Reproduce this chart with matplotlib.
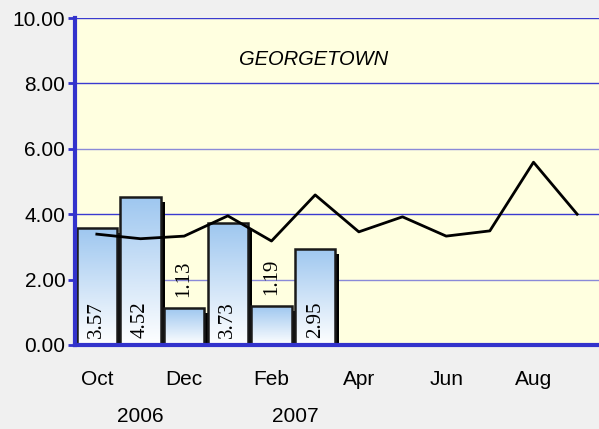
import numpy as np
import matplotlib.pyplot as plt
from matplotlib.patches import Rectangle

months = ["Oct", "Nov", "Dec", "Jan", "Feb", "Mar", "Apr", "May", "Jun", "Jul", "Aug", "Sep"]
bar_values = [3.57, 4.52, 1.13, 3.73, 1.19, 2.95]
line_values = [3.39, 3.25, 3.33, 3.95, 3.18, 4.59, 3.46, 3.92, 3.33, 3.49, 5.59, 4.00]
yticks = [0, 2, 4, 6, 8, 10]
year_labels = ["2006", "2007"]
year_pos = [1, 4.55]

plt.rcParams["font.family"] = ["Liberation Sans", "DejaVu Sans"]

fig = plt.figure(figsize=(5.99, 4.29), dpi=100, facecolor="#f0f0f0")
ax = fig.add_axes([75 / 599, 84 / 429, 524 / 599, 327 / 429])
ax.set_facecolor("#ffffe0")

x = np.arange(len(months))
ax.set_xlim(-0.5, len(months) - 0.5)
ax.set_ylim(0, 10)

# gridlines
for v in yticks[1:]:
    col = "#3a3ad0" if v in (4, 8, 10) else "#8a8ad8"
    ax.axhline(v, color=col, lw=1, zorder=1)

# bars with shadow and gradient
w = 0.93
dx = 4 / 43.7
dy = 5 / 32.7
grad = np.linspace(0, 1, 256).reshape(-1, 1)
top_c = np.array([0.62, 0.78, 0.94])
bot_c = np.array([1.0, 1.0, 1.0])
img = bot_c + (top_c - bot_c) * grad
img = img.reshape(256, 1, 3)
for i, v in enumerate(bar_values):
    shadow = Rectangle((i - w / 2 + dx, 0), w, v - dy, facecolor="black",
                       edgecolor="none", zorder=2)
    ax.add_patch(shadow)
    rect = Rectangle((i - w / 2, 0), w, v, facecolor="none", edgecolor="#1a1a1a",
                     lw=1.8, zorder=4)
    ax.add_patch(rect)
    im = ax.imshow(img, extent=(i - w / 2, i + w / 2, 0, v), origin="lower",
                   aspect="auto", zorder=3, interpolation="bilinear")
    im.set_clip_path(rect)
    if v > 2:
        ax.text(i, 0.22, f"{v:.2f}", rotation=90, ha="center", va="bottom",
                family="Liberation Serif", fontsize=15, zorder=5)
    else:
        ax.text(i, v + 0.35, f"{v:.2f}", rotation=90, ha="center", va="bottom",
                family="Liberation Serif", fontsize=15, zorder=5)

ax.plot(x, line_values, color="black", lw=2, zorder=6)

ax.text(0.456, 0.874, "GEORGETOWN", transform=ax.transAxes, ha="center",
        va="center", style="italic", fontsize=14.5)

# axes styling
for s in ["top", "right"]:
    ax.spines[s].set_visible(False)
for s in ["left", "bottom"]:
    ax.spines[s].set_color("#3333cc")
    ax.spines[s].set_linewidth(3)
    ax.spines[s].set_zorder(7)

ax.set_yticks(yticks)
ax.set_yticklabels([f"{v:.2f}" for v in yticks], fontsize=15)
ax.tick_params(axis="y", color="#3333cc", width=2, length=5, pad=2)
ax.set_xticks(x[::2])
ax.set_xticklabels(months[::2], fontsize=15)
ax.tick_params(axis="x", length=0, pad=18)

for lbl, p in zip(year_labels, year_pos):
    ax.text(p, -0.22, lbl, transform=ax.get_xaxis_transform(), ha="center",
            va="center", fontsize=15)

fig.savefig("out.png", dpi=100, facecolor=fig.get_facecolor())
